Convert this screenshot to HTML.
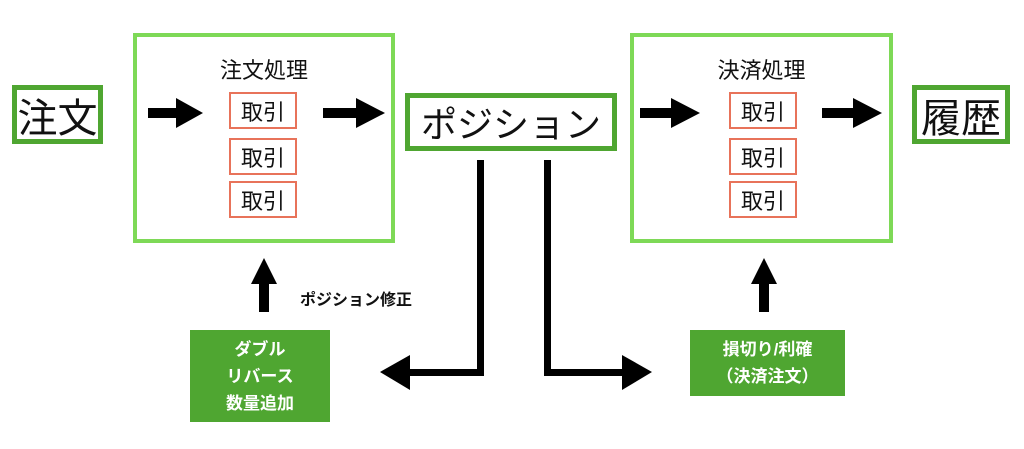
<!DOCTYPE html>
<html><head><meta charset="utf-8"><style>
body{margin:0;width:1024px;height:449px;background:#fff;position:relative;overflow:hidden;font-family:"Liberation Sans","Noto Sans CJK JP",sans-serif}
.a{position:absolute;box-sizing:border-box}
.lg{border:4px solid #7ed957}
.dg{border:5px solid #4fa631;display:flex;align-items:center;justify-content:center;font-size:40px;color:#111}
.t{border:2px solid #e8735a;display:flex;align-items:center;justify-content:center;font-size:22px;color:#111;width:68px;height:37px}
.title{font-size:22px;color:#111;text-align:center}
.fb{background:#4fa631;color:#fff;font-weight:bold;font-size:17px;display:flex;flex-direction:column;align-items:center;justify-content:center;line-height:27px}
</style></head><body>
<div class="a dg" style="left:12px;top:85px;width:91px;height:59px">注文</div>
<div class="a lg" style="left:133px;top:33px;width:262px;height:210px"></div>
<div class="a title" style="left:133px;top:53px;width:262px">注文処理</div>
<div class="a t" style="left:229px;top:92px">取引</div>
<div class="a t" style="left:229px;top:138px">取引</div>
<div class="a t" style="left:229px;top:181px">取引</div>
<div class="a dg" style="left:405px;top:93px;width:212px;height:58px;font-size:36px">ポジション</div>
<div class="a lg" style="left:630px;top:33px;width:263px;height:210px"></div>
<div class="a title" style="left:630px;top:53px;width:263px">決済処理</div>
<div class="a t" style="left:729px;top:92px">取引</div>
<div class="a t" style="left:729px;top:138px">取引</div>
<div class="a t" style="left:729px;top:181px">取引</div>
<div class="a dg" style="left:912px;top:85px;width:98px;height:59px">履歴</div>
<div class="a fb" style="left:190px;top:330px;width:140px;height:92px"><div>ダブル</div><div>リバース</div><div>数量追加</div></div>
<div class="a fb" style="left:690px;top:330px;width:155px;height:66px"><div>損切り/利確</div><div>（決済注文）</div></div>
<div class="a" style="left:300px;top:286px;font-size:16px;font-weight:bold;color:#111">ポジション修正</div>
<svg class="a" style="left:0;top:0" width="1024" height="449">
<g fill="#000">
<rect x="148" y="108" width="30" height="10"/><polygon points="176,98 203,113 176,128"/>
<rect x="323" y="108" width="35" height="10"/><polygon points="356,98 385,113 356,128"/>
<rect x="640" y="108" width="33" height="10"/><polygon points="671,98 700,113 671,128"/>
<rect x="822" y="108" width="33" height="10"/><polygon points="853,98 882,113 853,128"/>
<rect x="259" y="282" width="10" height="30"/><polygon points="251,284 264,258 277,284"/>
<rect x="759" y="282" width="10" height="30"/><polygon points="751,284 764,258 777,284"/>
<rect x="477" y="160" width="7" height="216"/><rect x="405" y="369" width="79" height="7"/><polygon points="410,355 380,372 410,390"/>
<rect x="544" y="160" width="7" height="216"/><rect x="544" y="369" width="82" height="7"/><polygon points="622,355 652,372 622,390"/>
</g></svg>
</body></html>
